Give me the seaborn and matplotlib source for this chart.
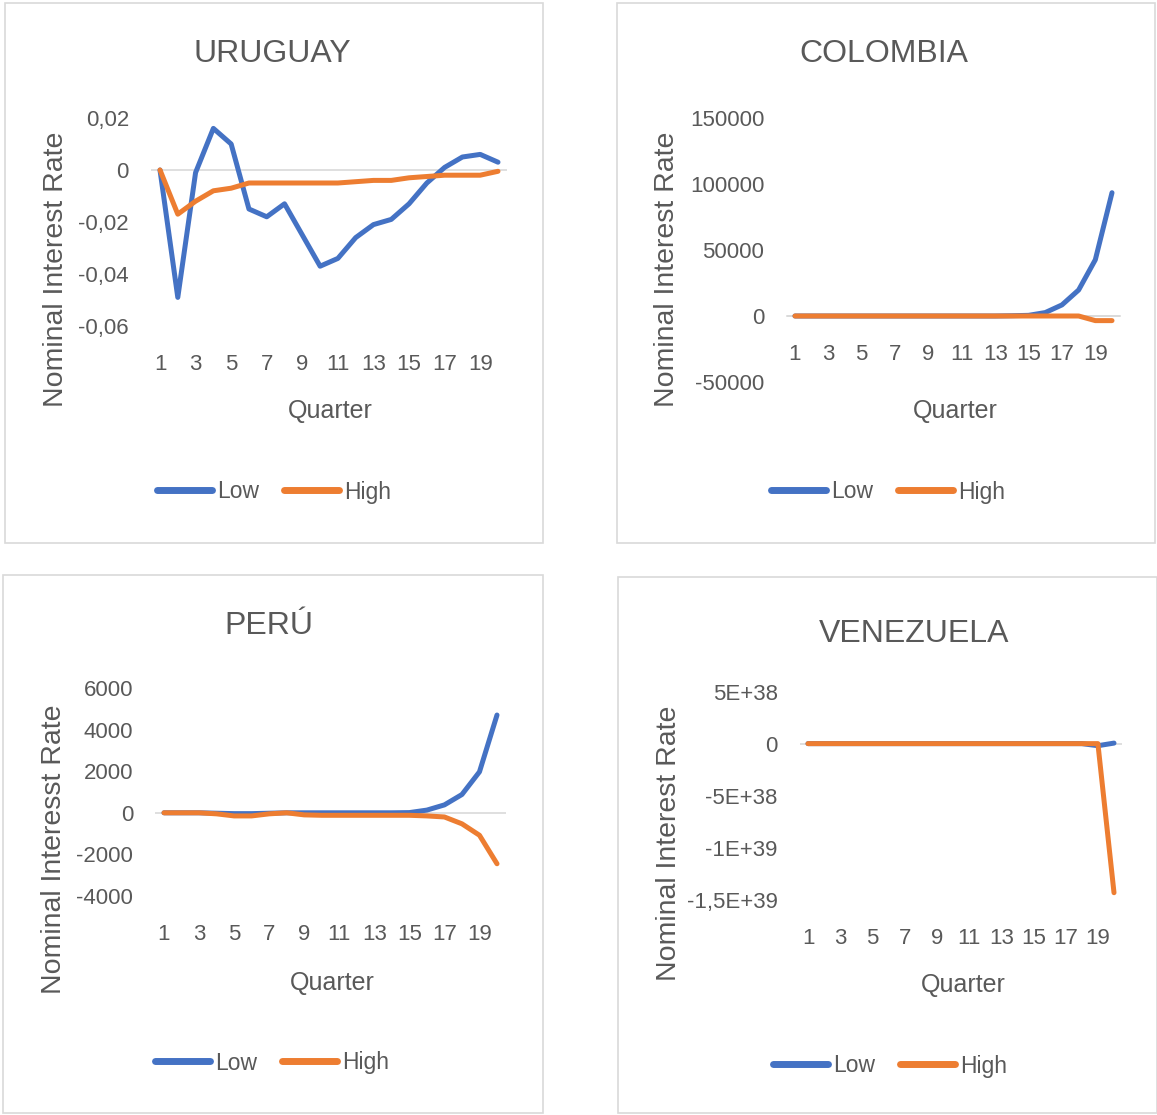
import matplotlib.pyplot as plt
import matplotlib.patches as patches
import seaborn as sns

# datos (20 trimestres por pais)
quarters = list(range(1, 21))
series_names = ["Low", "High"]

uru_low = [0, -0.049, -0.001, 0.016, 0.010, -0.015, -0.018, -0.013, -0.025, -0.037,
           -0.034, -0.026, -0.021, -0.019, -0.013, -0.005, 0.001, 0.005, 0.006, 0.003]
uru_high = [0, -0.017, -0.012, -0.008, -0.007, -0.005, -0.005, -0.005, -0.005, -0.005,
            -0.005, -0.0045, -0.004, -0.004, -0.003, -0.0025, -0.002, -0.002, -0.002, -0.0005]

col_low = [0, 0, 0, 0, 0, 0, 0, 0, 0, 0,
           0, 0, 0, 200, 500, 2600, 8400, 19700, 42600, 93400]
col_high = [0, 0, 0, 0, 0, 0, 0, 0, 0, 0,
            0, 0, 0, 0, 0, 0, 0, 0, -3500, -3500]

peru_low = [0, 0, 0, -20, -40, -40, -20, 0, 0, 0,
            0, 0, 0, 0, 10, 130, 380, 880, 1970, 4700]
peru_high = [0, 0, 0, -50, -150, -150, -50, 0, -100, -120,
             -120, -120, -120, -120, -120, -150, -200, -530, -1080, -2450]

ven_low = [0, 0, 0, 0, 0, 0, 0, 0, 0, 0,
           0, 0, 0, 0, 0, 0, 0, 0, -2e37, 5e36]
ven_high = [0, 0, 0, 0, 0, 0, 0, 0, 0, 0,
            0, 0, 0, 0, 0, 0, 0, 0, 0, -1.43e39]

xtick_vals = [1, 3, 5, 7, 9, 11, 13, 15, 17, 19]

uru_yticks = [0.02, 0, -0.02, -0.04, -0.06]
uru_ylabels = ["0,02", "0", "-0,02", "-0,04", "-0,06"]
col_yticks = [150000, 100000, 50000, 0, -50000]
col_ylabels = ["150000", "100000", "50000", "0", "-50000"]
peru_yticks = [6000, 4000, 2000, 0, -2000, -4000]
peru_ylabels = ["6000", "4000", "2000", "0", "-2000", "-4000"]
ven_yticks = [5e38, 0, -5e38, -1e39, -1.5e39]
ven_ylabels = ["5E+38", "0", "-5E+38", "-1E+39", "-1,5E+39"]

BLUE = "#4472C4"
ORANGE = "#ED7D31"
TEXT = "#595959"
GRID = "#D9D9D9"

sns.set_style("white")
plt.rcParams["font.family"] = ["Liberation Sans", "DejaVu Sans"]

W, H = 1157, 1115
fig = plt.figure(figsize=(W / 100, H / 100), dpi=100)


def fx(px):
    return px / W


def fy(py):
    return 1 - py / H


def panel(box, x1, x20, ytop, ybot, low, high, yticks, ylabels, title, title_xy,
          ylabel, ylabel_xy, xlabel_xy, legend_xy, axis_at_zero=False):
    # recuadro del grafico
    bx0, by0, bx1, by1 = box
    fig.patches.append(patches.Rectangle((fx(bx0), fy(by1)), fx(bx1 - bx0), (by1 - by0) / H,
                                         transform=fig.transFigure, fill=False,
                                         edgecolor=GRID, linewidth=1.2))
    step = (x20 - x1) / 19
    left = x1 - step / 2
    right = x20 + step / 2
    ax = fig.add_axes([fx(left), fy(ybot), fx(right - left), (ybot - ytop) / H])
    ax.axhline(0, color=GRID, linewidth=1.2, zorder=1)
    sns.lineplot(x=quarters, y=low, color=BLUE, linewidth=3.6, ax=ax, label=series_names[0], zorder=3)
    sns.lineplot(x=quarters, y=high, color=ORANGE, linewidth=3.6, ax=ax, label=series_names[1], zorder=4)
    ax.set_xlim(0.5, 20.5)
    ax.set_ylim(yticks[-1], yticks[0])
    ax.set_yticks(yticks)
    ax.set_yticklabels(ylabels)
    ax.set_xticks(xtick_vals)
    ax.set_xticklabels([str(v) for v in xtick_vals])
    for s in ax.spines.values():
        s.set_visible(False)
    ax.tick_params(axis="y", length=0, pad=16, labelsize=16, labelcolor=TEXT)
    ax.tick_params(axis="x", length=0, pad=20, labelsize=16, labelcolor=TEXT)
    if axis_at_zero:
        ax.spines["bottom"].set_visible(True)
        ax.spines["bottom"].set_position(("data", 0))
        ax.spines["bottom"].set_color(GRID)
        ax.spines["bottom"].set_linewidth(1.2)
        ax.set_xticks([v + 0.5 for v in range(0, 21)], minor=True)
        ax.tick_params(axis="x", which="minor", length=7, width=1.2, color=GRID, direction="out")
    ax.set_xlabel("")
    ax.set_ylabel("")
    ax.legend_.remove()
    fig.text(fx(title_xy[0]), fy(title_xy[1]), title, ha="center", va="center",
             fontsize=23, color=TEXT)
    fig.text(fx(ylabel_xy[0]), fy(ylabel_xy[1]), ylabel, ha="center", va="center",
             rotation=90, fontsize=20.5, color=TEXT)
    fig.text(fx(xlabel_xy[0]), fy(xlabel_xy[1]), "Quarter", ha="center", va="center",
             fontsize=18, color=TEXT)
    handles, labels = ax.get_legend_handles_labels()
    leg = fig.legend(handles, labels, loc="center", bbox_to_anchor=(fx(legend_xy[0]), fy(legend_xy[1])),
                     ncol=2, frameon=False, fontsize=16.5, handlelength=2.4, handletextpad=0.2,
                     columnspacing=1.1, labelcolor=TEXT)
    for line in leg.get_lines():
        line.set_linewidth(5)
    return ax


panel((5, 3, 543, 543), 160, 498, 118, 326, uru_low, uru_high, uru_yticks, uru_ylabels,
      "URUGUAY", (272, 54), "Nominal Interest Rate", (56, 269), (330, 411), (274, 492))

panel((617, 3, 1155, 543), 795, 1112, 118, 382, col_low, col_high, col_yticks, col_ylabels,
      "COLOMBIA", (884, 54), "Nominal Interest Rate", (667, 269), (955, 411), (888, 492),
      axis_at_zero=True)

panel((3, 575, 543, 1113), 164, 497, 688, 896, peru_low, peru_high, peru_yticks, peru_ylabels,
      "PERÚ", (269, 626), "Nominal Interesst Rate", (54, 849), (332, 983), (272, 1063))

panel((618, 577, 1157, 1113), 808, 1114, 691.5, 900, ven_low, ven_high, ven_yticks, ven_ylabels,
      "VENEZUELA", (914, 634), "Nominal Interest Rate", (669, 843), (963, 985), (890, 1066))

plt.savefig("out.png", dpi=100)
plt.close()
